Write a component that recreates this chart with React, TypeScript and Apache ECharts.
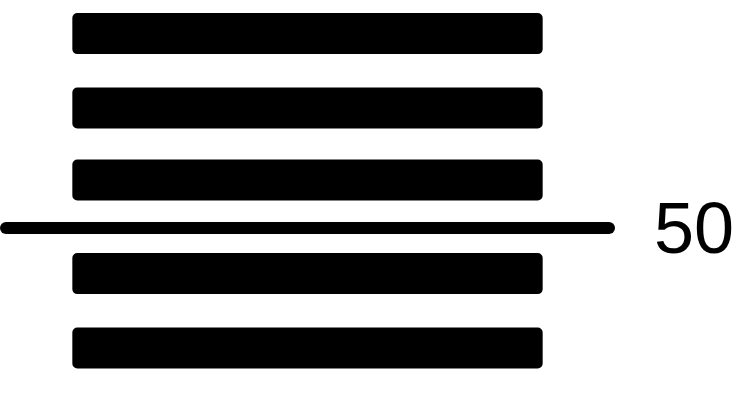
import React, { useEffect, useRef } from "react";
import * as echarts from "echarts";

// Bars: horizontal extent (start, end) on the x value axis and position on the y value axis
const barStarts = [11, 11, 11, 11, 11];
const barEnds = [89, 89, 89, 89, 89];
const barPositions = [131, 100, 70, 31, 0];
// Threshold line
const thresholdValue = 50;
const thresholdLabel = "50";

export default function App() {
  const ref = useRef<HTMLDivElement>(null);

  useEffect(() => {
    if (!ref.current) return;
    const chart = echarts.init(ref.current, undefined, { renderer: "svg" });
    const barData = barPositions.map((p, i) => [barStarts[i], barEnds[i], p]);
    chart.setOption({
      animation: false,
      backgroundColor: "#ffffff",
      grid: { left: 6, right: 141, top: 0, height: 396, containLabel: false },
      xAxis: { type: "value", min: 0, max: 100, show: false },
      yAxis: { type: "value", min: -20, max: 145, show: false },
      series: [
        {
          type: "custom",
          silent: true,
          data: barData,
          encode: { x: [0, 1], y: 2 },
          renderItem: (params: any, api: any) => {
            const p0 = api.coord([api.value(0), api.value(2)]);
            const p1 = api.coord([api.value(1), api.value(2)]);
            const h = 41;
            return {
              type: "rect",
              shape: { x: p0[0], y: p0[1] - h / 2, width: p1[0] - p0[0], height: h, r: 5 },
              style: { fill: "#000000" },
            };
          },
        },
        {
          type: "line",
          data: [],
          silent: true,
          markLine: {
            silent: true,
            symbol: ["none", "none"],
            lineStyle: { color: "#000000", width: 12, type: "solid", cap: "round" },
            label: {
              show: true,
              position: "end",
              formatter: thresholdLabel,
              fontSize: 72,
              color: "#000000",
              fontFamily: "Liberation Sans, Arial, sans-serif",
              distance: 45,
            },
            data: [{ yAxis: thresholdValue }],
          },
        },
      ],
    });
    return () => chart.dispose();
  }, []);

  return (
    <div
      ref={ref}
      style={{ position: "absolute", left: 0, top: 0, width: 750, height: 400 }}
    />
  );
}
